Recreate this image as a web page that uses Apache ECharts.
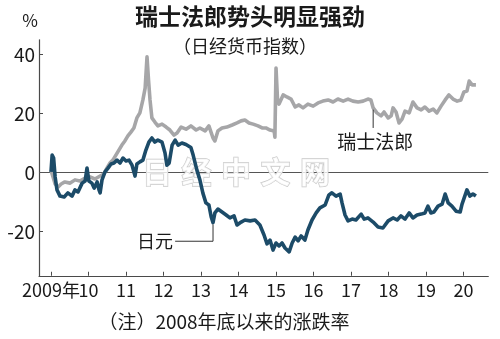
<!DOCTYPE html>
<html><head><meta charset="utf-8">
<script src="https://cdn.jsdelivr.net/npm/echarts@6/dist/echarts.min.js"></script>
<style>html,body{margin:0;padding:0;background:#fff}#c{width:500px;height:339px}</style>
</head><body><div id="c"></div>
<script>
// ---- data (percent change since end of 2008) ----
const francDates = [2009.00,2009.05,2009.11,2009.19,2009.27,2009.37,2009.51,2009.64,2009.77,2009.91,2010.04,2010.17,2010.31,2010.41,2010.49,2010.57,2010.65,2010.73,2010.81,2010.89,2010.97,2011.05,2011.13,2011.21,2011.29,2011.37,2011.45,2011.51,2011.56,2011.60,2011.64,2011.69,2011.77,2011.85,2011.96,2012.07,2012.17,2012.28,2012.36,2012.47,2012.60,2012.73,2012.87,2012.97,2013.11,2013.21,2013.32,2013.37,2013.45,2013.56,2013.69,2013.83,2013.96,2014.07,2014.17,2014.28,2014.39,2014.52,2014.63,2014.73,2014.84,2014.95,2014.97,2015.00,2015.04,2015.08,2015.19,2015.29,2015.40,2015.51,2015.61,2015.72,2015.85,2015.99,2016.12,2016.25,2016.39,2016.52,2016.65,2016.79,2016.92,2017.05,2017.19,2017.32,2017.45,2017.53,2017.59,2017.69,2017.80,2017.88,2017.99,2018.07,2018.12,2018.20,2018.28,2018.36,2018.44,2018.55,2018.65,2018.76,2018.87,2018.97,2019.08,2019.19,2019.29,2019.40,2019.51,2019.61,2019.72,2019.83,2019.93,2020.01,2020.09,2020.15,2020.23,2020.33];
const francValues = [0.8,0.2,-3.9,-4.9,-3.9,-3.2,-3.6,-2.5,-2.9,-1.9,-1.5,-2.2,-1.2,-0.5,1.5,3.2,4.2,5.9,7.6,9.3,10.7,12.4,13.7,15.1,18.5,20.2,24.6,28.6,39.2,31.4,24.6,18.5,17.1,15.8,16.4,15.4,14.4,12.7,13.4,15.4,14.7,15.8,14.4,15.1,14.1,15.8,11.7,10.7,14.1,15.1,15.4,16.1,16.8,17.5,17.8,16.8,16.4,15.8,15.1,15.1,14.4,14.1,12.0,35.4,24.6,23.2,26.3,25.6,24.9,22.2,22.9,21.9,23.2,22.5,23.6,24.2,24.6,23.9,24.9,24.2,24.9,24.2,23.9,24.2,24.9,24.6,21.9,20.2,19.2,20.5,18.5,19.2,21.9,20.5,16.8,18.1,20.8,20.2,23.9,21.9,21.2,22.2,20.8,21.5,20.2,22.5,24.6,26.3,24.9,24.2,24.6,27.3,27.6,31.0,29.7,29.7];

const yenDates = [2009.00,2009.03,2009.07,2009.11,2009.16,2009.24,2009.35,2009.45,2009.56,2009.64,2009.72,2009.83,2009.91,2009.96,2010.01,2010.09,2010.15,2010.23,2010.28,2010.31,2010.36,2010.44,2010.52,2010.60,2010.68,2010.76,2010.84,2010.92,2011.00,2011.08,2011.16,2011.24,2011.29,2011.37,2011.45,2011.53,2011.61,2011.69,2011.77,2011.85,2011.96,2012.04,2012.09,2012.15,2012.23,2012.31,2012.39,2012.49,2012.60,2012.73,2012.79,2012.89,2012.97,2013.05,2013.13,2013.21,2013.27,2013.32,2013.37,2013.45,2013.56,2013.67,2013.77,2013.88,2013.96,2014.07,2014.17,2014.31,2014.44,2014.57,2014.68,2014.76,2014.84,2014.92,2015.00,2015.08,2015.16,2015.24,2015.35,2015.43,2015.51,2015.59,2015.67,2015.77,2015.85,2015.96,2016.07,2016.17,2016.31,2016.41,2016.49,2016.60,2016.71,2016.76,2016.84,2016.92,2017.03,2017.13,2017.27,2017.35,2017.45,2017.59,2017.72,2017.85,2017.99,2018.12,2018.23,2018.33,2018.44,2018.55,2018.65,2018.76,2018.87,2018.97,2019.05,2019.13,2019.21,2019.32,2019.43,2019.51,2019.59,2019.69,2019.80,2019.91,2019.96,2020.01,2020.09,2020.17,2020.25,2020.33];
const yenValues = [0.2,5.9,4.9,-1.5,-5.9,-8.0,-8.3,-6.9,-8.0,-5.9,-6.6,-3.6,-2.9,1.5,-2.9,-3.6,-5.3,-3.2,-5.9,-6.9,-2.5,0.2,1.5,2.9,3.2,4.2,3.2,4.9,3.9,4.2,2.5,-1.2,2.9,3.6,4.2,7.6,10.3,11.7,10.3,11.0,10.3,6.6,2.5,3.2,9.3,11.0,9.3,10.0,9.5,8.5,5.9,0.8,-2.5,-7.0,-10.3,-11.0,-15.0,-17.0,-13.7,-12.4,-13.4,-14.4,-15.4,-14.7,-17.8,-16.8,-16.1,-16.4,-16.1,-17.8,-21.2,-24.2,-22.9,-26.3,-23.9,-24.9,-23.9,-25.6,-26.9,-23.9,-21.9,-23.2,-21.5,-22.9,-19.5,-16.1,-13.7,-12.0,-11.0,-7.6,-6.9,-8.0,-7.3,-10.3,-14.4,-16.4,-15.8,-16.1,-14.1,-15.8,-15.4,-16.8,-18.5,-18.8,-16.4,-15.4,-16.1,-14.7,-15.8,-13.7,-15.4,-14.4,-14.1,-13.7,-11.4,-13.7,-13.4,-11.4,-10.7,-7.3,-10.3,-11.4,-13.1,-13.4,-10.7,-11.0,-5.9,-8.0,-7.3,-8.0];

const yearTicks = [2009,2010,2011,2012,2013,2014,2015,2016,2017,2018,2019,2020];
const yearLabels = ['2009年','10','11','12','13','14','15','16','17','18','19','20'];
const valueTicks = [-20,0,20,40];

const titleText = '瑞士法郎势头明显强劲';
const subtitleText = '（日经货币指数）';
const noteText = '（注）2008年底以来的涨跌率';
const unitText = '%';
const francName = '瑞士法郎';
const yenName = '日元';
const watermarkChars = ['日','经','中','文','网'];

// ---- chart ----
const FONT = '"Noto Sans CJK SC", "Noto Sans", sans-serif';
const AXIS = '#4a4a4a';
const TXT = '#1a1a1a';
const FRANC_COLOR = '#a6a6a8';
const YEN_COLOR = '#1c4b68';
const X_LABEL_SIZE = 18;
const X_LABEL_MARGIN = 5;

const chart = echarts.init(document.getElementById('c'), null, {renderer: 'canvas'});

const zip = (d, v) => d.map((x, i) => [x, v[i]]);
// first year label is drawn separately (it is wide and the axis would drop its neighbour)
const axisLabelValues = yearTicks.slice(1);

chart.setOption({
  animation: false,
  backgroundColor: '#ffffff',
  grid: {left: 39, right: 11.7, top: 39.75, bottom: 63.25, containLabel: false},
  xAxis: {
    type: 'value', min: 2008.68, max: 2020.66,
    splitLine: {show: false},
    axisLine: {show: true, onZero: false, lineStyle: {color: AXIS, width: 1.2}},
    axisTick: {show: true, inside: true, length: 4, customValues: yearTicks, lineStyle: {color: AXIS, width: 1}},
    axisLabel: {
      customValues: axisLabelValues, margin: X_LABEL_MARGIN, color: TXT, fontFamily: FONT, fontSize: X_LABEL_SIZE,
      showMinLabel: true, showMaxLabel: true, hideOverlap: false,
      formatter: v => yearLabels[yearTicks.indexOf(Math.round(v))]
    }
  },
  yAxis: {
    type: 'value', min: -35, max: 45,
    splitLine: {show: false},
    axisLine: {show: true, onZero: false, lineStyle: {color: AXIS, width: 1.2}},
    axisTick: {show: true, inside: true, length: 4, customValues: valueTicks, lineStyle: {color: AXIS, width: 1}},
    axisLabel: {customValues: valueTicks, margin: 4, color: TXT, fontFamily: FONT, fontSize: 19}
  },
  series: [
    {
      name: francName, type: 'line', data: zip(francDates, francValues), z: 5,
      showSymbol: false, symbol: 'none', lineStyle: {color: FRANC_COLOR, width: 3.6, join: 'round'},
      markLine: {
        silent: true, symbol: 'none', z: 1, label: {show: false},
        lineStyle: {color: '#555', width: 1, type: 'solid'},
        data: [{yAxis: 0}]
      }
    },
    {
      name: yenName, type: 'line', data: zip(yenDates, yenValues), z: 6,
      showSymbol: false, symbol: 'none', lineStyle: {color: YEN_COLOR, width: 3.6, join: 'round'}
    }
  ]
});

const px = (x, y) => chart.convertToPixel({gridIndex: 0}, [x, y]);

// annotation anchors (data coordinates)
const francLeader = {x: 2017.59, top: 21.3, bottom: 15.1, labelY: 10.4};
const yenLeader = {xStart: 2012.31, xEnd: 2013.32, y: -23.3, top: -17.6, labelX: 2012.25};

const fTop = px(francLeader.x, francLeader.top);
const fBot = px(francLeader.x, francLeader.bottom);
const fLab = px(francLeader.x, francLeader.labelY);
const yA = px(yenLeader.xStart, yenLeader.y);
const yB = px(yenLeader.xEnd, yenLeader.y);
const yC = px(yenLeader.xEnd, yenLeader.top);
const yL = px(yenLeader.labelX, yenLeader.y);
const firstTick = px(yearTicks[0], -35);

const wmX = [157, 196.5, 236, 275.5, 315];
const graphics = [
  {type: 'text', left: 'center', top: 5, z: 10,
   style: {text: titleText, fontFamily: FONT, fontSize: 23, fontWeight: 'bold', fill: TXT}},
  {type: 'text', x: 245, y: 46, z: 10,
   style: {text: subtitleText, fontFamily: FONT, fontSize: 18, fill: TXT, align: 'center', verticalAlign: 'middle'}},
  {type: 'text', x: 30, y: 21, z: 10,
   style: {text: unitText, fontFamily: FONT, fontSize: 17, fill: TXT, align: 'center', verticalAlign: 'middle'}},
  {type: 'text', x: 224, y: 322, z: 10,
   style: {text: noteText, fontFamily: FONT, fontSize: 19, fill: TXT, align: 'center', verticalAlign: 'middle'}},
  {type: 'text', x: firstTick[0], y: firstTick[1] + X_LABEL_MARGIN, z: 10,
   style: {text: yearLabels[0], fontFamily: FONT, fontSize: X_LABEL_SIZE, fill: TXT, align: 'center', verticalAlign: 'top'}},
  {type: 'line', z: 10, shape: {x1: fTop[0], y1: fTop[1], x2: fBot[0], y2: fBot[1]},
   style: {stroke: '#333', lineWidth: 1}},
  {type: 'text', x: fLab[0] + 2, y: fLab[1], z: 10,
   style: {text: francName, fontFamily: FONT, fontSize: 19, fill: TXT, align: 'center', verticalAlign: 'middle'}},
  {type: 'polyline', z: 10, shape: {points: [yA, yB, yC]},
   style: {stroke: '#333', lineWidth: 1, fill: null}},
  {type: 'text', x: yL[0], y: yL[1], z: 10,
   style: {text: yenName, fontFamily: FONT, fontSize: 18, fill: TXT, align: 'right', verticalAlign: 'middle'}}
];
watermarkChars.forEach((ch, i) => {
  graphics.push({type: 'text', x: wmX[i], y: 172, z: 3, silent: true,
    style: {text: ch, fontFamily: FONT, fontSize: 30, fontWeight: 'bold', fill: 'rgba(255,255,255,0.8)',
            stroke: '#c9c9c9', lineWidth: 1.3, align: 'center', verticalAlign: 'middle'}});
});
chart.setOption({graphic: graphics});
</script></body></html>
